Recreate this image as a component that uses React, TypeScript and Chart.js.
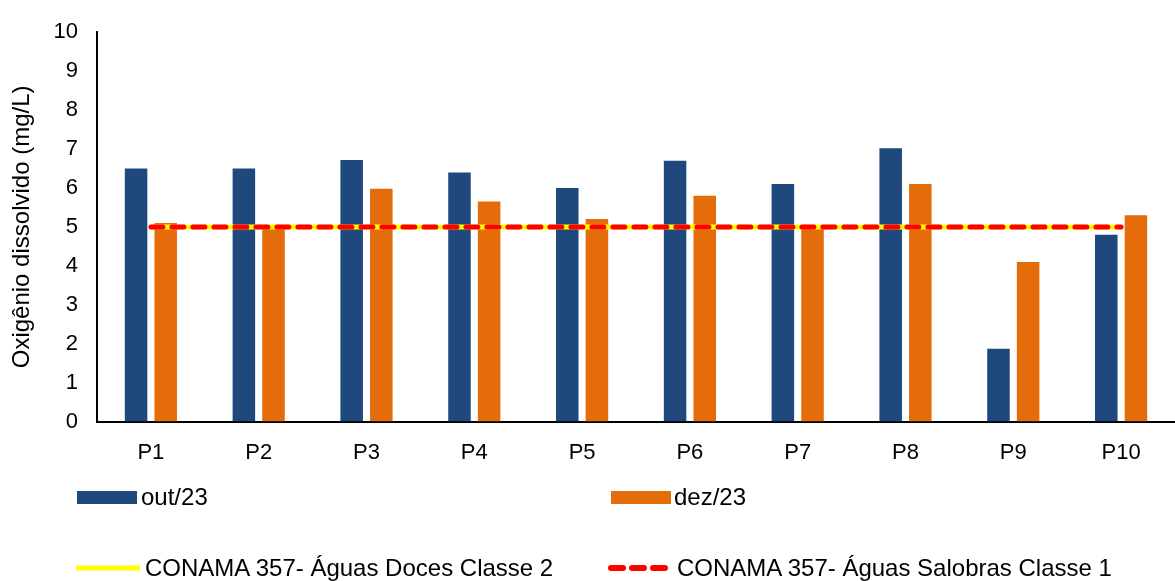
import React, { useEffect, useRef } from "react";
import { Chart, registerables } from "chart.js";

Chart.register(...registerables);

const categories = ["P1", "P2", "P3", "P4", "P5", "P6", "P7", "P8", "P9", "P10"];
const outValues = [6.5, 6.5, 6.72, 6.4, 6.0, 6.7, 6.1, 7.02, 1.87, 4.8];
const dezValues = [5.1, 5.02, 5.98, 5.65, 5.2, 5.8, 5.02, 6.1, 4.1, 5.3];
const docesClasse2 = [5, 5, 5, 5, 5, 5, 5, 5, 5, 5];
const salobrasClasse1 = [5, 5, 5, 5, 5, 5, 5, 5, 5, 5];
const yTicks = [0, 1, 2, 3, 4, 5, 6, 7, 8, 9, 10];

const labelOut = "out/23";
const labelDez = "dez/23";
const labelDoces = "CONAMA 357- Águas Doces Classe 2";
const labelSalobras = "CONAMA 357- Águas Salobras Classe 1";

const BLUE = "#1F497D";
const ORANGE = "#E46C0A";
const YELLOW = "#FFFF00";
const RED = "#FF0000";
const FONT = "'Liberation Sans', Arial, sans-serif";

export default function App() {
  const canvasRef = useRef<HTMLCanvasElement | null>(null);

  useEffect(() => {
    if (!canvasRef.current) return;
    const chart = new Chart(canvasRef.current, {
      type: "bar",
      data: {
        labels: categories,
        datasets: [
          {
            type: "line",
            label: labelSalobras,
            data: salobrasClasse1,
            borderColor: RED,
            borderWidth: 5,
            borderDash: [12, 9],
            borderCapStyle: "round",
            pointRadius: 0,
            fill: false,
            order: 1,
          } as any,
          {
            type: "line",
            label: labelDoces,
            data: docesClasse2,
            borderColor: YELLOW,
            borderWidth: 5,
            pointRadius: 0,
            fill: false,
            order: 2,
          } as any,
          {
            label: labelOut,
            data: outValues,
            backgroundColor: BLUE,
            categoryPercentage: 0.55,
            barPercentage: 0.76,
            order: 3,
          },
          {
            label: labelDez,
            data: dezValues,
            backgroundColor: ORANGE,
            categoryPercentage: 0.55,
            barPercentage: 0.76,
            order: 4,
          },
        ],
      },
      options: {
        responsive: false,
        animation: false,
        layout: { padding: { top: 29, left: 0, right: 0, bottom: 97 } },
        plugins: {
          legend: { display: false },
          tooltip: { enabled: false },
        },
        scales: {
          x: {
            grid: { display: false, drawTicks: false },
            border: { display: true, color: "#000", width: 2 },
            ticks: { font: { family: FONT, size: 22 }, color: "#000", padding: 18 },
          },
          y: {
            min: 0,
            max: 10,
            afterBuildTicks: (scale: any) => {
              scale.ticks = yTicks.map((v) => ({ value: v }));
            },
            afterFit: (scale: any) => {
              scale.width = 97;
            },
            grid: { display: false, drawTicks: false },
            border: { display: true, color: "#000", width: 2 },
            ticks: { font: { family: FONT, size: 22 }, color: "#000", padding: 19 },
            title: {
              display: true,
              text: "Oxigênio dissolvido (mg/L)",
              font: { family: FONT, size: 24 },
              color: "#000",
              padding: { top: 8, bottom: 0 },
            },
          },
        },
      },
    });
    return () => chart.destroy();
  }, []);

  const textStyle: React.CSSProperties = {
    position: "absolute",
    fontFamily: FONT,
    fontSize: 24,
    color: "#000",
    lineHeight: "26px",
    whiteSpace: "nowrap",
  };

  return (
    <div
      style={{
        position: "absolute",
        left: 0,
        top: 0,
        width: 1175,
        height: 581,
        overflow: "hidden",
        background: "#fff",
      }}
    >
      <canvas ref={canvasRef} width={1175} height={581} style={{ width: 1175, height: 581, display: "block" }} />
      {/* legend row 1 */}
      <div style={{ position: "absolute", left: 77, top: 491, width: 60, height: 13, background: BLUE }} />
      <div style={{ ...textStyle, left: 141, top: 484 }}>{labelOut}</div>
      <div style={{ position: "absolute", left: 611, top: 491, width: 60, height: 13, background: ORANGE }} />
      <div style={{ ...textStyle, left: 674, top: 484 }}>{labelDez}</div>
      {/* legend row 2 */}
      <svg style={{ position: "absolute", left: 72, top: 560 }} width={72} height={16}>
        <line x1={4} y1={8} x2={68} y2={8} stroke={YELLOW} strokeWidth={5} />
      </svg>
      <div style={{ ...textStyle, left: 145, top: 555 }}>{labelDoces}</div>
      <svg style={{ position: "absolute", left: 604, top: 560 }} width={72} height={16}>
        <line
          x1={7}
          y1={8}
          x2={66}
          y2={8}
          stroke={RED}
          strokeWidth={6}
          strokeDasharray="12 9"
          strokeLinecap="round"
        />
      </svg>
      <div style={{ ...textStyle, left: 677, top: 555 }}>{labelSalobras}</div>
    </div>
  );
}
